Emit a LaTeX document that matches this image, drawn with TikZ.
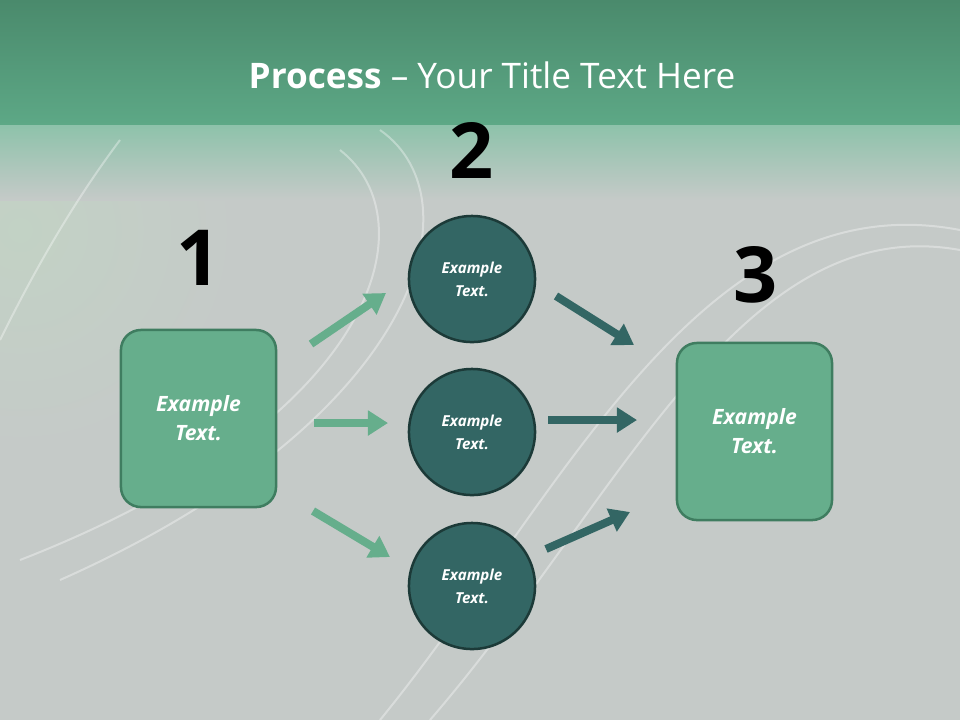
\documentclass[tikz,border=0pt]{standalone}
\usepackage{fontspec}
\setmainfont{Open Sans}
\usetikzlibrary{arrows.meta}
\definecolor{bg}{HTML}{C5CAC8}
\definecolor{topg}{HTML}{4A8A6C}
\definecolor{bandg}{HTML}{5DA886}
\definecolor{boxg}{HTML}{66AE8C}
\definecolor{boxb}{HTML}{3F7D60}
\definecolor{circf}{HTML}{336664}
\definecolor{circb}{HTML}{1C3A38}
\tikzset{
 px/.style={x=0.01cm,y=-0.01cm},
 sqbox/.style={draw=boxb,line width=0.025cm,fill=boxg,rounded corners=0.2cm,minimum width=1.55cm,minimum height=1.77cm,text=white,font=\fontsize{6}{8.3}\selectfont\bfseries\itshape,align=center},
 circ/.style={circle,draw=circb,line width=0.025cm,fill=circf,minimum size=1.26cm,text=white,font=\fontsize{4.3}{6.5}\selectfont\bfseries\itshape,align=center},
 num/.style={font=\fontsize{22}{22}\selectfont\bfseries,text=black},
 garr/.style={draw=boxg,line width=0.08cm,-{Triangle[length=0.2cm,width=0.24cm]}},
 darr/.style={draw=circf,line width=0.08cm,-{Triangle[length=0.2cm,width=0.24cm]}},
 swoosh/.style={draw=white,opacity=0.35,line width=0.02cm}
}
\begin{document}
\begin{tikzpicture}[px]
\useasboundingbox (0,0) rectangle (960,720);
\fill[bg] (0,0) rectangle (960,720);
\shade[inner color=white!70!green!15!bg,outer color=bg] (20,230) circle (220);
\shade[top color=topg,bottom color=bandg] (0,0) rectangle (960,125);
\shade[top color=bandg!70!white,bottom color=bg] (0,125) rectangle (960,200);
% swooshes
\draw[swoosh] (380,130) .. controls (480,200) and (420,420) .. (60,580);
\draw[swoosh] (340,150) .. controls (430,220) and (380,420) .. (20,560);
\draw[swoosh] (960,230) .. controls (700,180) and (560,500) .. (380,720);
\draw[swoosh] (960,250) .. controls (740,210) and (620,500) .. (430,720);
\draw[swoosh] (120,140) .. controls (60,220) and (20,300) .. (0,340);
\node[text=white,font=\fontsize{10}{12}\selectfont] (title) at (492,75) {\textbf{Process} – Your Title Text Here};
\node[num] (n1) at (199,258) {1};
\node[num] (n2) at (472,150) {2};
\node[num] (n3) at (756,275) {3};
\node[sqbox] (b1) at (198.5,418.5) {Example\\Text.};
\node[sqbox] (b3) at (754.5,431.5) {Example\\Text.};
\node[circ] (c1) at (472,279) {Example\\Text.};
\node[circ] (c2) at (472,432) {Example\\Text.};
\node[circ] (c3) at (472,586) {Example\\Text.};
\coordinate (a1s) at (311,344); \coordinate (a1e) at (386,293);
\coordinate (a2s) at (314,423); \coordinate (a2e) at (388,423);
\coordinate (a3s) at (313,511); \coordinate (a3e) at (390,557);
\coordinate (d1s) at (556,296); \coordinate (d1e) at (634,345);
\coordinate (d2s) at (548,420); \coordinate (d2e) at (637,420);
\coordinate (d3s) at (546,549); \coordinate (d3e) at (630,512);
\draw[garr] (a1s) -- (a1e);
\draw[garr] (a2s) -- (a2e);
\draw[garr] (a3s) -- (a3e);
\draw[darr] (d1s) -- (d1e);
\draw[darr] (d2s) -- (d2e);
\draw[darr] (d3s) -- (d3e);
\end{tikzpicture}
\end{document}
